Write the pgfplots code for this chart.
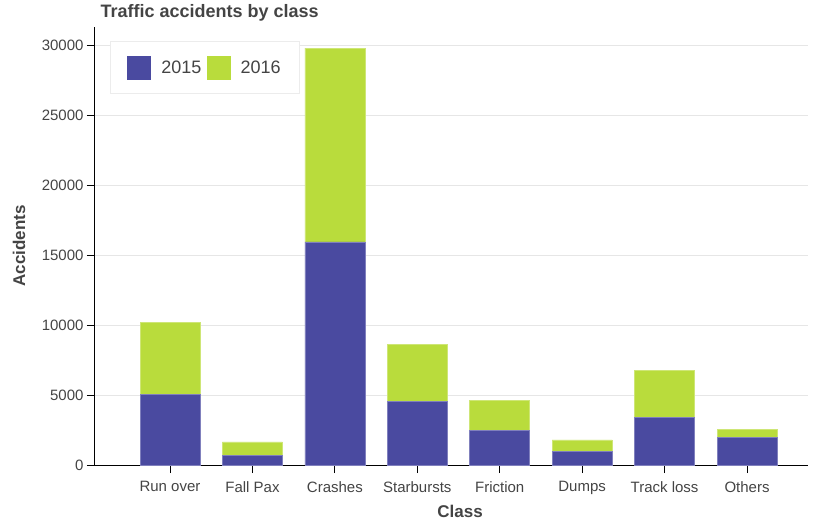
\documentclass[border=0pt]{standalone}
\usepackage{pgfplots}
\pgfplotsset{compat=1.18}
\usepackage{fontspec}
\setmainfont{Liberation Sans}
\definecolor{c15}{HTML}{4A4AA0}
\definecolor{c16}{HTML}{B9DC3C}
\definecolor{txt}{HTML}{444444}
\definecolor{gridc}{HTML}{E6E6E6}
\begin{document}
\begin{tikzpicture}
\useasboundingbox (-95pt,-58pt) rectangle (718pt,465pt);
\begin{axis}[
  scale only axis, width=713pt, height=438pt,
  ybar stacked, bar width=60pt,
  xmin=-0.91, xmax=7.74, ymin=0, ymax=31300,
  axis x line*=bottom, axis y line*=left,
  axis line style={black, line width=1pt, -},
  xtick={0,1,2,3,4,5,6,7},
  xticklabels={Run over, Fall Pax, Crashes, Starbursts, Friction, Dumps, Track loss, Others},
  ytick={0,5000,10000,15000,20000,25000,30000},
  scaled y ticks=false,
  tick align=outside, major tick length=8pt,
  tick style={black, line width=1pt},
  ymajorgrids, grid style={gridc, line width=1pt},
  /pgf/number format/assume math mode=true,
  /pgf/number format/1000 sep={},
  ticklabel style={font=\fontsize{15}{18}\selectfont, text=txt},
  xticklabel style={yshift=-5pt},
  every axis title shift=0pt,
  title={Traffic accidents by class},
  title style={at={(axis description cs:0,1)}, anchor=base west, xshift=2pt, yshift=9.7pt,
    font=\bfseries\fontsize{18}{20}\selectfont, text=txt},
  xlabel={Class}, ylabel={Accidents},
  xlabel style={at={(axis description cs:0.512,-0.105)}, anchor=center,
    font=\bfseries\fontsize{17}{20}\selectfont, text=txt},
  ylabel style={at={(axis description cs:-0.1066,0.5)}, anchor=center,
    font=\bfseries\fontsize{17}{20}\selectfont, text=txt},
  legend columns=2,
  legend style={at={(axis description cs:0.021,0.968)}, anchor=north west,
    draw=gray!15, line width=1pt, fill=white,
    font=\fontsize{18}{20}\selectfont, text=txt,
    inner xsep=17pt, inner ysep=14pt,
    /tikz/every odd column/.append style={column sep=8pt},
    /tikz/every even column/.append style={column sep=3pt}},
  legend image code/.code={\fill[#1, draw=none] (0pt,-12pt) rectangle (24pt,12pt);},
]
\addplot[fill=c15, draw=c15!70!white, line width=0.6pt] coordinates {
  (0,5070) (1,710) (2,15950) (3,4570) (4,2500) (5,950) (6,3380) (7,1950)};
\addplot[fill=c16, draw=c16!70!white, line width=0.6pt] coordinates {
  (0,5130) (1,940) (2,13840) (3,4070) (4,2140) (5,840) (6,3360) (7,600)};
\legend{2015,2016}
\end{axis}
\end{tikzpicture}
\end{document}
